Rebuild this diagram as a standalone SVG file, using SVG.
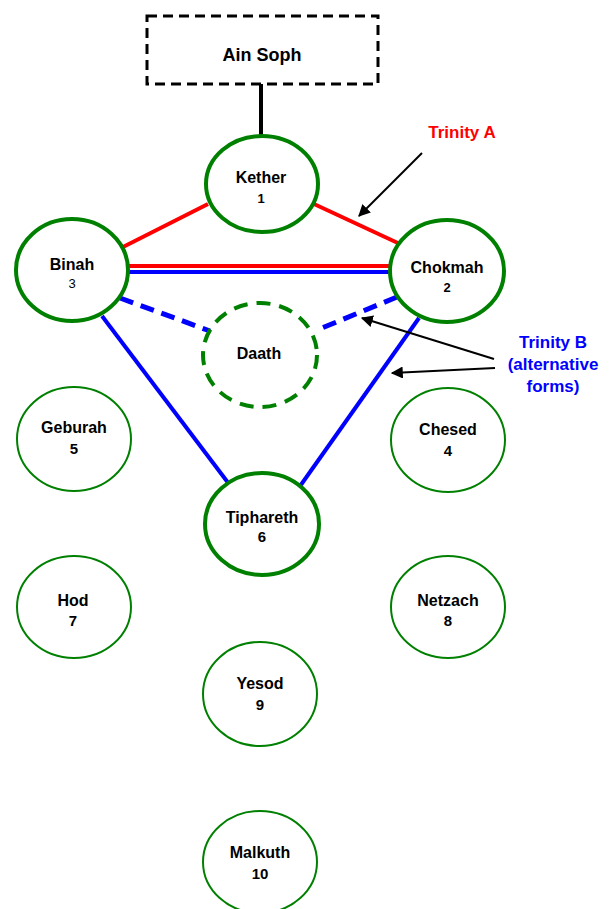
<svg xmlns="http://www.w3.org/2000/svg" width="613" height="909" viewBox="0 0 613 909">
<style>
text{font-family:"Liberation Sans",Arial,sans-serif;font-weight:bold;text-anchor:middle;fill:#000}
.nm{font-size:16px}
.n1{font-size:13px}
.n2{font-size:15px}
.thick{fill:#fff;stroke:#008000;stroke-width:4}
.thin{fill:#fff;stroke:#008000;stroke-width:2}
.red{stroke:#ff0000;stroke-width:4;fill:none}
.blue{stroke:#0000ff;stroke-width:4;fill:none}
.bdash{stroke:#0000ff;stroke-width:5;fill:none;stroke-dasharray:14 8}
.arr{stroke:#000;stroke-width:2;fill:none;marker-end:url(#ah)}
</style>
<defs>
<marker id="ah" viewBox="0 0 10 10" refX="9" refY="5" markerWidth="6" markerHeight="6" orient="auto" markerUnits="strokeWidth">
<path d="M0,0 L10,5 L0,10 Z" fill="#000"/>
</marker>
</defs>
<rect width="613" height="909" fill="#fff"/>
<g id="connectors">
<line x1="261" y1="84" x2="261" y2="137" stroke="#000" stroke-width="4"/>
<line class="red" x1="208" y1="204" x2="123" y2="247"/>
<line class="red" x1="314" y1="204" x2="400" y2="244"/>
<line class="red" x1="128" y1="266" x2="391" y2="266"/>
<line class="blue" x1="128" y1="272" x2="391" y2="272"/>
<line class="bdash" x1="120" y1="298" x2="210" y2="331"/>
<line class="bdash" x1="397" y1="297" x2="322" y2="328"/>
<line class="blue" x1="102" y1="316" x2="229" y2="484"/>
<line class="blue" x1="419" y1="318" x2="298" y2="489"/>
<line class="arr" x1="422" y1="153" x2="359" y2="216"/>
<line class="arr" x1="494" y1="359" x2="362" y2="318"/>
<line class="arr" x1="495" y1="368" x2="392" y2="373"/>
</g>
<g id="ainsoph">
<rect x="147" y="16" width="231" height="68" fill="#fff" stroke="#000" stroke-width="3" stroke-dasharray="10 6"/>
<text x="262" y="61" style="font-size:18px">Ain Soph</text>
</g>
<g id="kether">
<ellipse class="thick" cx="262" cy="184" rx="56" ry="48"/>
<text class="nm" x="261" y="183">Kether</text>
<text class="n1" x="261" y="203">1</text>
</g>
<g id="binah">
<ellipse class="thick" cx="72" cy="270" rx="56" ry="51"/>
<text class="nm" x="72" y="270">Binah</text>
<text class="n1" x="72" y="288" style="font-weight:normal">3</text>
</g>
<g id="chokmah">
<ellipse class="thick" cx="447" cy="271" rx="57" ry="51"/>
<text class="nm" x="447" y="273">Chokmah</text>
<text class="n1" x="447" y="292">2</text>
</g>
<g id="daath">
<ellipse cx="260" cy="355" rx="57" ry="52" fill="none" stroke="#008000" stroke-width="4" stroke-dasharray="14 9"/>
<text class="nm" x="259" y="359">Daath</text>
</g>
<g id="geburah">
<ellipse class="thin" cx="74" cy="439" rx="57" ry="52"/>
<text class="nm" x="74" y="433">Geburah</text>
<text class="n2" x="74" y="454">5</text>
</g>
<g id="chesed">
<ellipse class="thin" cx="448" cy="440" rx="57" ry="52"/>
<text class="nm" x="448" y="435">Chesed</text>
<text class="n2" x="448" y="456">4</text>
</g>
<g id="tiphareth">
<ellipse class="thick" cx="262" cy="524" rx="57" ry="51"/>
<text class="nm" x="262" y="523">Tiphareth</text>
<text class="n2" x="262" y="542">6</text>
</g>
<g id="hod">
<ellipse class="thin" cx="74" cy="607" rx="57" ry="51"/>
<text class="nm" x="73" y="606">Hod</text>
<text class="n2" x="73" y="626">7</text>
</g>
<g id="netzach">
<ellipse class="thin" cx="448" cy="607" rx="57" ry="51"/>
<text class="nm" x="448" y="606">Netzach</text>
<text class="n2" x="448" y="626">8</text>
</g>
<g id="yesod">
<ellipse class="thin" cx="260" cy="694" rx="57" ry="52"/>
<text class="nm" x="260" y="689">Yesod</text>
<text class="n2" x="260" y="710">9</text>
</g>
<g id="malkuth">
<ellipse class="thin" cx="260" cy="862" rx="57" ry="51"/>
<text class="nm" x="260" y="858">Malkuth</text>
<text class="n2" x="260" y="879">10</text>
</g>
<g id="labels">
<text x="462" y="138" style="font-size:17px;fill:#ff0000">Trinity A</text>
<text x="553" y="348" style="font-size:17px;fill:#0000ff">Trinity B</text>
<text x="553" y="370" style="font-size:17px;fill:#0000ff">(alternative</text>
<text x="553" y="392" style="font-size:17px;fill:#0000ff">forms)</text>
</g>
</svg>
